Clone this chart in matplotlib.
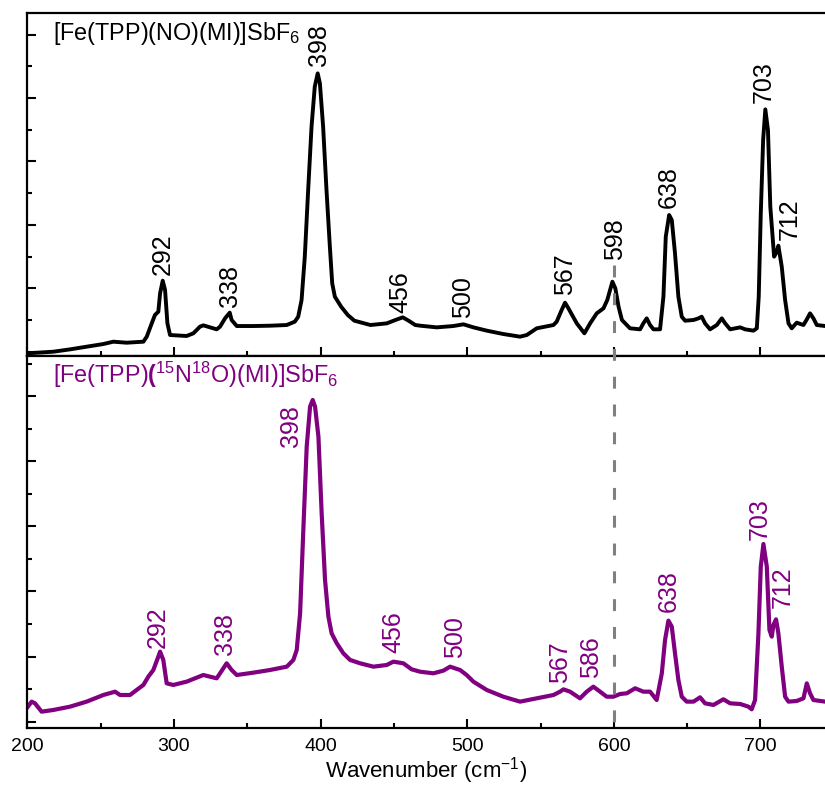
import matplotlib
matplotlib.use("Agg")
import matplotlib.pyplot as plt
from matplotlib.ticker import MultipleLocator

plt.rcParams["font.family"] = ["Liberation Sans", "DejaVu Sans"]
plt.rcParams["mathtext.fontset"] = "custom"
plt.rcParams["mathtext.rm"] = "Liberation Sans"
plt.rcParams["mathtext.it"] = "Liberation Sans:italic"
plt.rcParams["mathtext.bf"] = "Liberation Sans:bold"

# ---- Spectrum of [Fe(TPP)(NO)(MI)]SbF6 (wavenumber, intensity a.u.) ----
top_wavenumber = [
    199.5, 217.7, 229.1, 240.4, 251.8, 258.6, 267.7, 279.1, 281.4, 284.8,
    287.0, 289.3, 290.5, 292.3, 293.9, 295.5, 297.3, 308.6, 313.2, 317.7,
    320.0, 324.6, 329.1, 331.4, 334.8, 338.0, 339.3, 342.8, 354.1, 365.5,
    376.9, 382.4, 384.7, 387.0, 389.2, 391.5, 393.8, 396.0, 398.0, 399.5,
    401.7, 404.0, 406.3, 407.9, 409.7, 414.0, 418.5, 423.0, 434.0, 445.1,
    451.0, 456.0, 460.0, 464.5, 468.0, 479.2, 490.5, 497.4, 504.2, 513.3,
    524.6, 536.0, 540.6, 547.4, 558.8, 561.0, 564.4, 566.7, 569.0, 574.7,
    579.9, 583.8, 588.3, 592.9, 595.5, 599.0, 601.0, 603.2, 605.5, 611.0,
    617.9, 620.1, 622.4, 624.7, 627.0, 631.5, 633.8, 635.4, 637.7, 639.5,
    641.7, 644.0, 646.3, 648.6, 654.3, 657.7, 659.9, 662.2, 665.6, 670.2,
    673.6, 675.9, 679.3, 686.1, 689.5, 695.2, 697.5, 698.8, 700.2, 701.8,
    703.3, 705.1, 706.7, 709.3, 711.1, 712.2, 714.5, 716.8, 719.1, 721.3,
    724.7, 729.3, 731.6, 733.8, 736.1, 738.4, 744.1,
]
top_intensity = [
    -26, 0, 37, 79, 121, 158, 142, 158, 237, 447,
    579, 631, 920, 1120, 973, 447, 263, 248, 290, 395,
    416, 384, 353, 395, 526, 616, 500, 405, 405, 410,
    421, 474, 552, 815, 1499, 2550, 3549, 4180, 4390, 4232,
    3549, 2550, 1656, 1078, 868, 710, 579, 489, 421, 447,
    500, 542, 489, 421, 410, 384, 405, 432, 384, 332,
    279, 237, 263, 369, 421, 474, 658, 773, 684, 447,
    290, 447, 605, 684, 815, 1104, 999, 710, 500, 369,
    353, 447, 526, 421, 353, 353, 868, 1814, 2156, 2077,
    1551, 868, 552, 489, 500, 526, 552, 447, 353, 421,
    526, 447, 353, 384, 353, 332, 369, 868, 2182, 3338,
    3822, 3496, 2287, 1499, 1577, 1672, 1341, 815, 447, 369,
    458, 421, 510, 605, 526, 421, 405,
]

# ---- Spectrum of [Fe(TPP)(15N18O)(MI)]SbF6 ----
bottom_wavenumber = [
    199.5, 202.9, 205.2, 209.7, 217.7, 229.1, 240.4, 251.8, 259.8, 263.2,
    270.0, 274.5, 279.1, 282.5, 285.9, 289.3, 290.5, 292.7, 295.0, 299.5,
    308.6, 320.0, 329.1, 331.4, 335.9, 339.3, 342.8, 354.1, 365.5, 376.9,
    381.4, 383.7, 386.0, 388.2, 390.5, 392.8, 394.6, 396.2, 398.5, 400.7,
    403.0, 405.3, 407.5, 411.0, 415.5, 420.1, 426.9, 436.0, 445.1, 449.6,
    456.4, 462.1, 467.8, 476.9, 483.7, 488.3, 495.1, 499.6, 504.2, 513.3,
    524.6, 536.0, 547.4, 558.8, 563.3, 565.6, 570.1, 576.9, 581.5, 586.0,
    590.6, 595.1, 599.7, 604.2, 608.8, 614.5, 620.1, 624.7, 629.2, 632.7,
    634.9, 637.2, 639.5, 641.7, 644.0, 646.3, 649.7, 654.3, 658.8, 662.2,
    667.9, 674.7, 679.3, 686.1, 691.8, 694.0, 696.3, 698.6, 700.2, 702.0,
    704.3, 706.1, 707.7, 708.8, 710.6, 712.2, 714.5, 716.8, 719.1, 724.7,
    729.3, 731.6, 733.8, 736.1, 744.1,
]
bottom_intensity = [
    205, 308, 282, 154, 180, 231, 308, 410, 461, 410,
    410, 487, 564, 692, 794, 999, 1076, 948, 589, 564,
    615, 717, 666, 743, 897, 794, 717, 753, 794, 845,
    948, 1101, 1665, 2945, 4224, 4839, 4941, 4839, 4378, 3201,
    2177, 1613, 1357, 1204, 1050, 948, 897, 845, 871, 922,
    897, 804, 768, 743, 784, 845, 794, 717, 615, 487,
    384, 308, 359, 410, 461, 497, 461, 359, 461, 538,
    461, 384, 384, 425, 436, 513, 461, 461, 333, 743,
    1255, 1552, 1460, 1050, 641, 384, 308, 308, 374, 282,
    257, 344, 282, 272, 231, 190, 333, 1357, 2381, 2729,
    2381, 1409, 1306, 1485, 1572, 1357, 845, 384, 308, 318,
    359, 589, 436, 333, 308,
]

# Peak annotations (text) and where each one sits
top_peaks = ["292", "338", "398", "456", "500", "567", "598", "638", "703", "712"]
top_peak_xy = [(292.5, 1210), (338.2, 710), (399.0, 4505), (454.7, 605), (497.4, 527),
               (566.7, 894), (600.6, 1446), (637.6, 2261), (702.0, 3917), (720.2, 1762)]
bottom_peaks = ["292", "338", "398", "456", "500", "567", "586", "638", "703", "712"]
bottom_peak_xy = [(288.7, 1127), (334.8, 1024), (379.7, 4224), (449.6, 1050), (491.7, 974),
                  (563.3, 590), (584.7, 667), (637.2, 1690), (699.2, 2791), (715.3, 1742)]

x_ticks = [200, 300, 400, 500, 600, 700]
marker_position = 600

purple = "#800080"

fig = plt.figure(figsize=(8.25, 7.88), dpi=100)
ax1 = fig.add_axes([0.0332, 0.5482, 0.9668, 0.4353])
ax2 = fig.add_axes([0.0332, 0.0758, 0.9668, 0.4725])

ax1.plot(top_wavenumber, top_intensity, color="black", lw=2.8,
         solid_joinstyle="round", solid_capstyle="round")
ax2.plot(bottom_wavenumber, bottom_intensity, color=purple, lw=3.0,
         solid_joinstyle="round", solid_capstyle="round")

ax1.set_ylim(-68, 5342)
ax2.set_ylim(-101, 5617)

for ax in (ax1, ax2):
    ax.set_xlim(200, 744)
    ax.set_xticks(x_ticks)
    ax.xaxis.set_minor_locator(MultipleLocator(50))
    ax.yaxis.set_major_locator(MultipleLocator(1000))
    ax.yaxis.set_minor_locator(MultipleLocator(500))
    ax.tick_params(which="both", direction="in", top=False, right=False,
                   width=1.5, labelleft=False)
    ax.tick_params(which="major", length=6.5)
    ax.tick_params(which="minor", length=3.5)
    ax.spines["right"].set_visible(False)
    for side in ("left", "bottom", "top"):
        ax.spines[side].set_linewidth(1.6)

ax1.tick_params(axis="x", labelbottom=False)
ax2.tick_params(axis="x", labelsize=14, pad=7)
ax2.set_xlabel("Wavenumber (cm$^{-1}$)", fontsize=16, labelpad=0)

for txt, (x, y) in zip(top_peaks, top_peak_xy):
    ax1.text(x, y, txt, rotation=90, ha="center", va="bottom", fontsize=18, color="black")
for txt, (x, y) in zip(bottom_peaks, bottom_peak_xy):
    ax2.text(x, y, txt, rotation=90, ha="center", va="bottom", fontsize=18, color=purple)

ax1.text(0.032, 0.921, "[Fe(TPP)(NO)(MI)]SbF$_6$", transform=ax1.transAxes,
         fontsize=16.8, va="baseline", ha="left", color="black")
ax2.text(0.032, 0.9275, "[Fe(TPP)$\\mathbf{(}$$^{15}$N$^{18}$O)(MI)]SbF$_6$",
         transform=ax2.transAxes, fontsize=16.8, va="baseline", ha="left", color=purple)

# dashed guide at 600 cm-1 running through both panels
ax2.plot([marker_position, marker_position], [7015, -101], color="#808080", lw=2.2,
         linestyle=(0, (3.9, 5.2)), clip_on=False, zorder=5)

fig.savefig("out.png", dpi=100)
